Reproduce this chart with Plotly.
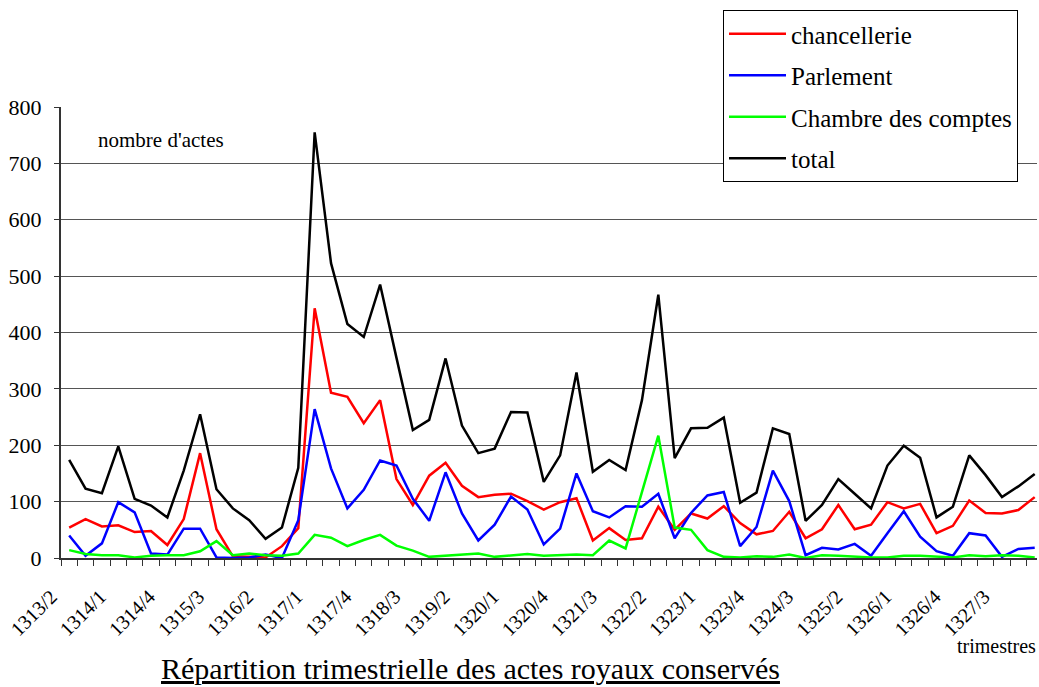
import plotly.graph_objects as go

# Quarters (année/trimestre) from 1313/2 to 1328/1
quarters = [
    "1313/2", "1313/3", "1313/4",
    "1314/1", "1314/2", "1314/3", "1314/4",
    "1315/1", "1315/2", "1315/3", "1315/4",
    "1316/1", "1316/2", "1316/3", "1316/4",
    "1317/1", "1317/2", "1317/3", "1317/4",
    "1318/1", "1318/2", "1318/3", "1318/4",
    "1319/1", "1319/2", "1319/3", "1319/4",
    "1320/1", "1320/2", "1320/3", "1320/4",
    "1321/1", "1321/2", "1321/3", "1321/4",
    "1322/1", "1322/2", "1322/3", "1322/4",
    "1323/1", "1323/2", "1323/3", "1323/4",
    "1324/1", "1324/2", "1324/3", "1324/4",
    "1325/1", "1325/2", "1325/3", "1325/4",
    "1326/1", "1326/2", "1326/3", "1326/4",
    "1327/1", "1327/2", "1327/3", "1327/4",
    "1328/1",
]

chancellerie = [54, 69, 56, 58, 46, 48, 23, 69, 186, 51,
                3, 2, 1, 21, 53, 443, 293, 286, 239, 280,
                140, 94, 146, 169, 128, 108, 112, 114, 101, 86,
                99, 106, 31, 53, 32, 35, 91, 50, 79, 70,
                92, 62, 42, 48, 82, 35, 51, 94, 51, 59,
                99, 88, 96, 44, 57, 102, 80, 79, 85, 108]

parlement = [40, 4, 26, 99, 81, 8, 6, 52, 52, 1,
             0, 1, 6, 0, 67, 264, 159, 88, 121, 173,
             164, 105, 66, 152, 79, 31, 59, 109, 86, 24,
             52, 150, 83, 72, 92, 91, 114, 35, 80, 111,
             117, 21, 55, 155, 101, 5, 18, 15, 25, 4,
             44, 83, 38, 12, 4, 44, 40, 2, 16, 18]

chambre_des_comptes = [14, 7, 5, 5, 1, 4, 5, 5, 12, 30,
                       5, 8, 5, 4, 8, 41, 36, 21, 32, 41,
                       22, 13, 2, 4, 5, 8, 2, 5, 7, 4,
                       5, 6, 5, 31, 17, 118, 217, 54, 50, 14,
                       2, 1, 3, 2, 6, 0, 5, 4, 2, 1,
                       1, 4, 4, 3, 1, 5, 3, 5, 4, 1]

total = [174, 123, 115, 198, 105, 93, 72, 155, 255, 122,
         88, 67, 34, 54, 160, 755, 523, 415, 392, 485,
         355, 227, 245, 354, 235, 186, 194, 259, 258, 135,
         182, 329, 153, 174, 156, 280, 467, 177, 230, 231,
         249, 98, 116, 230, 220, 66, 94, 140, 114, 88,
         164, 199, 178, 72, 91, 182, 147, 108, 127, 149]

series = [
    ("chancellerie", chancellerie, "#FF0000"),
    ("Parlement", parlement, "#0000FF"),
    ("Chambre des comptes", chambre_des_comptes, "#00FF00"),
    ("total", total, "#000000"),
]

FONT = "Liberation Serif"
W, H = 1039, 687
L, R, T, B = 61, 1037, 107, 558  # plot area in pixels


def px_x(px):
    return (px - L) / (R - L)


def px_y(py):
    return (B - py) / (B - T)


idx = list(range(len(quarters)))

fig = go.Figure()
for name, values, color in series:
    fig.add_trace(go.Scatter(
        x=idx, y=values, mode="lines", name=name, legendgroup=name,
        line=dict(color=color, width=2.5),
    ))

fig.update_layout(
    width=W, height=H,
    margin=dict(l=L, r=W - R, t=T, b=H - B, pad=0),
    paper_bgcolor="white", plot_bgcolor="white",
    font=dict(family=FONT, size=21, color="black"),
    showlegend=True,
    legend=dict(
        x=px_x(723), y=px_y(10), xanchor="left", yanchor="top",
        bordercolor="black", borderwidth=1, bgcolor="white",
        font=dict(family=FONT, size=25, color="black"),
        traceorder="grouped", tracegroupgap=6, itemwidth=57,
    ),
    xaxis=dict(
        range=[-0.5, 59.14],
        tickmode="array", tickvals=idx[::3], ticktext=quarters[::3],
        tickangle=-45, ticks="", showgrid=False, zeroline=False,
        showline=True, linecolor="#333333", linewidth=2,
        tickfont=dict(family=FONT, size=20, color="black"),
        ticklabelstandoff=17, ticklabelshift=-18,
        minor=dict(tickmode="array", tickvals=[k - 0.5 for k in range(61)],
                   ticks="outside", ticklen=6, tickwidth=1,
                   tickcolor="#333333", showgrid=False),
    ),
    yaxis=dict(
        range=[0, 800], tickmode="linear", tick0=0, dtick=100,
        showgrid=True, gridcolor="#555555", gridwidth=1, zeroline=False,
        showline=True, linecolor="#333333", linewidth=2,
        ticks="outside", ticklen=5, tickwidth=1, tickcolor="#333333",
        tickfont=dict(family=FONT, size=22, color="black"),
        ticklabelstandoff=8,
    ),
    annotations=[
        dict(text="nombre d'actes", xref="paper", yref="paper",
             x=px_x(96), y=px_y(140), xanchor="left", yanchor="middle",
             showarrow=False, font=dict(family=FONT, size=21, color="black")),
        dict(text="trimestres", xref="paper", yref="paper",
             x=px_x(1038), y=px_y(646), xanchor="right", yanchor="middle",
             showarrow=False, font=dict(family=FONT, size=20, color="black")),
        dict(text="<u>Répartition trimestrielle des actes royaux conservés</u>",
             xref="paper", yref="paper",
             x=px_x(470), y=px_y(668), xanchor="center", yanchor="middle",
             showarrow=False, font=dict(family=FONT, size=30, color="black")),
    ],
)

fig.write_html("out.html")
